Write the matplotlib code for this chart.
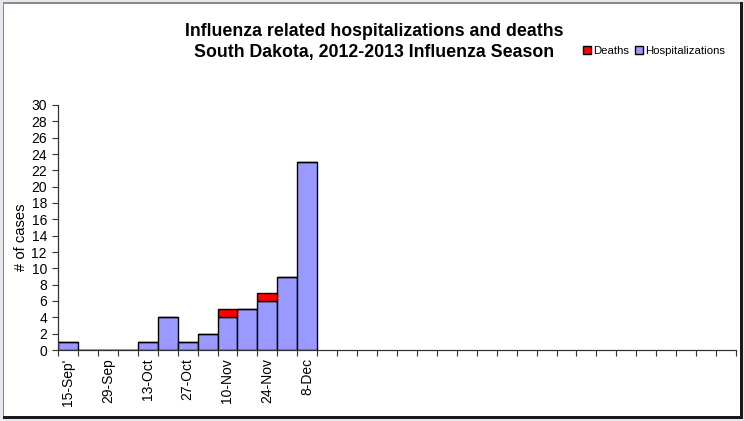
import matplotlib
matplotlib.use("Agg")
import matplotlib.pyplot as plt
from matplotlib.patches import Rectangle
import numpy as np

plt.rcParams['font.family'] = ['Liberation Sans', 'DejaVu Sans']

# Data (weekly, starting 15-Sep)
n_weeks = 34
hospitalizations = [1, 0, 0, 0, 1, 4, 1, 2, 4, 5, 6, 9, 23]
deaths = [0, 0, 0, 0, 0, 0, 0, 0, 1, 0, 1, 0, 0]
label_weeks = [0, 2, 4, 6, 8, 10, 12]
tick_labels = ["15-Sep'", "29-Sep", "13-Oct", "27-Oct", "10-Nov", "24-Nov", "8-Dec"]

W, H = 744, 421
fig = plt.figure(figsize=(W / 100, H / 100), dpi=100)
fig.patch.set_facecolor('#e6e8ee')

def px(x0, y0, x1, y1, color):
    fig.patches.append(Rectangle((x0 / W, 1 - y1 / H), (x1 - x0) / W, (y1 - y0) / H,
                                 transform=fig.transFigure, facecolor=color,
                                 edgecolor='none', zorder=-10))

px(3, 2, 743, 419, '#1a1a1a')
px(3, 2, 740, 416, '#8a8a8a')
px(4, 4, 740, 416, 'white')

ax = fig.add_axes([58 / W, 1 - 350 / H, (736 - 58) / W, (350 - 105) / H])
ax.set_zorder(5)
ax.set_facecolor('white')

x = np.arange(len(hospitalizations))
ax.bar(x, hospitalizations, width=1.0, color='#9999ff', edgecolor='black', linewidth=1.0,
       label='Hospitalizations', zorder=2)
ax.bar(x, deaths, width=1.0, bottom=hospitalizations, color='#ff0000', edgecolor='black',
       linewidth=1.0, label='Deaths', zorder=2)

ax.set_xlim(-0.5, n_weeks - 0.5)
ax.set_ylim(0, 30)
ax.set_yticks(np.arange(0, 31, 2))
ax.tick_params(axis='y', labelsize=10, length=4, width=0.8, pad=4, color='#333333')

ax.set_xticks(np.arange(-0.5, n_weeks, 1.0))
ax.set_xticklabels([])
ax.tick_params(axis='x', which='major', length=4, width=0.8, color='#333333')
ax.set_xticks(label_weeks, minor=True)
ax.set_xticklabels(tick_labels, minor=True, rotation=90, fontsize=10)
ax.tick_params(axis='x', which='minor', length=0, pad=6)

for s in ['top', 'right']:
    ax.spines[s].set_visible(False)
for s in ['left', 'bottom']:
    ax.spines[s].set_color('#333333')
    ax.spines[s].set_linewidth(0.9)

ax.set_ylabel('# of cases', fontsize=10.6)
ax.yaxis.set_label_coords((28 - 58) / 678, (350 - 237) / 245)

fig.text(374 / W, 1 - 31 / H, 'Influenza related hospitalizations and deaths',
         ha='center', va='center', fontsize=12.8, fontweight='bold')
fig.text(374 / W, 1 - 52 / H, 'South Dakota, 2012-2013 Influenza Season',
         ha='center', va='center', fontsize=12.8, fontweight='bold')

handles, labels = ax.get_legend_handles_labels()
leg = fig.legend(handles[::-1], labels[::-1], loc='center left',
                 bbox_to_anchor=(583 / W, 1 - 51 / H), ncol=2, frameon=False,
                 fontsize=8.2, handlelength=0.7, handleheight=0.7, handletextpad=0.2,
                 columnspacing=0.5, borderpad=0, borderaxespad=0)

fig.savefig('out.png', dpi=100)
